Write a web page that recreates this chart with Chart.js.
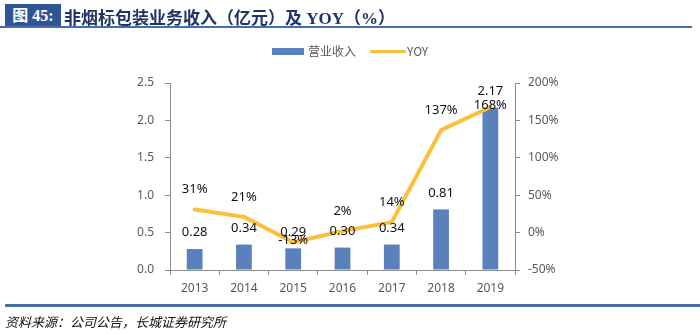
<!DOCTYPE html>
<html>
<head>
<meta charset="utf-8">
<script src="https://cdn.jsdelivr.net/npm/chart.js@4/dist/chart.umd.min.js"></script>
<style>
  html, body { margin: 0; padding: 0; background: #fff; }
  #page { position: relative; width: 700px; height: 334px; overflow: hidden; background: #fff; }
  #chartBox { position: absolute; left: 0; top: 0; width: 700px; height: 334px; }
  .title-tag {
    position: absolute; left: 5px; top: 4px; width: 56px; height: 23px;
    background: #2F5597; color: #fff; font: bold 16px "Liberation Serif", "Noto Sans CJK SC", serif;
    line-height: 23px; text-align: center; white-space: nowrap;
  }
  .title-text {
    position: absolute; left: 64px; top: 4px; height: 23px; line-height: 23px;
    color: #1F3468; font: bold 17px "Liberation Serif", "Noto Sans CJK SC", serif; white-space: nowrap;
  }
  .rule-top { position: absolute; left: 0; top: 26px; width: 692px; height: 2px; background: #4A6FA8; }
  .rule-bottom { position: absolute; left: 5px; top: 304px; width: 695px; height: 3px; background: #4A6FA8; }
  .source {
    position: absolute; left: 5px; top: 312px; font: italic 13px "Noto Sans CJK SC", sans-serif;
    color: #111; white-space: nowrap;
  }
  .legend { position: absolute; top: 42px; left: 272px; height: 18px; font: 12px "Noto Sans CJK SC", sans-serif; color: #595959; white-space: nowrap; }
  .legend span { position: absolute; top: 0; line-height: 18px; }
  .legend i { position: absolute; display: block; }
</style>
</head>
<body>
<div id="page">
  <div id="chartBox"><canvas id="c"></canvas></div>
  <div class="title-tag">图 45:</div>
  <div class="title-text">非烟标包装业务收入（亿元）及 YOY（%）</div>
  <div class="rule-top"></div>
  <div class="legend">
    <i style="left:0; top:6px; width:32px; height:7px; background:#5981BC;"></i>
    <span style="left:36px;">营业收入</span>
    <i style="left:98px; top:8px; width:36px; height:3px; background:#FBBF3C; border-radius:2px;"></i>
    <span style="left:135px;">YOY</span>
  </div>
  <div class="rule-bottom"></div>
  <div class="source">资料来源：公司公告，长城证券研究所</div>
</div>
<script>
// Years on the category axis
const years = ['2013', '2014', '2015', '2016', '2017', '2018', '2019'];
// Non-cigarette packaging revenue, 100 million yuan
const revenue = [0.28, 0.34, 0.29, 0.30, 0.34, 0.81, 2.17];
// Year-over-year growth, %
const yoy = [31, 21, -13, 2, 14, 137, 168];
// Where each growth label sits relative to its point
const yoyLabelPlace = ['above', 'above', 'center', 'above', 'above', 'above', 'center'];
// Axis tick values
const revenueTicks = [0, 0.5, 1.0, 1.5, 2.0, 2.5];
const yoyTicks = [-50, 0, 50, 100, 150, 200];

const AXIS_GRAY = '#8C8C8C';
const TICK_FONT = { family: '"Noto Sans", "Noto Sans CJK SC", sans-serif', size: 12 };

const valueLabels = {
  id: 'valueLabels',
  afterDatasetsDraw(chart) {
    const ctx = chart.ctx;
    ctx.save();
    ctx.font = '13px "Noto Sans", "Noto Sans CJK SC", sans-serif';
    ctx.fillStyle = '#111';
    ctx.textAlign = 'center';
    ctx.textBaseline = 'middle';
    chart.getDatasetMeta(0).data.forEach((el, i) => {
      ctx.fillText(revenue[i].toFixed(2), el.x, el.y - 16.5);
    });
    chart.getDatasetMeta(1).data.forEach((el, i) => {
      const lift = yoyLabelPlace[i] === 'above' ? 20 : 2;
      ctx.fillText(yoy[i] + '%', el.x, el.y - lift);
    });
    ctx.restore();
  }
};

const axisGrid = { display: true, drawOnChartArea: false, drawTicks: true, tickLength: 5, color: AXIS_GRAY, lineWidth: 1 };
const axisBorder = { display: true, color: AXIS_GRAY, width: 1 };

new Chart(document.getElementById('c'), {
  type: 'bar',
  data: {
    labels: years,
    datasets: [
      {
        label: '营业收入',
        data: revenue,
        backgroundColor: '#5981BC',
        borderWidth: 0,
        barPercentage: 0.32,
        categoryPercentage: 1,
        yAxisID: 'y',
        order: 1
      },
      {
        type: 'line',
        label: 'YOY',
        data: yoy,
        borderColor: '#FBBF3C',
        backgroundColor: '#FBBF3C',
        borderWidth: 4,
        pointRadius: 0,
        tension: 0,
        borderJoinStyle: 'round',
        borderCapStyle: 'round',
        yAxisID: 'y2',
        order: 0
      }
    ]
  },
  options: {
    responsive: true,
    maintainAspectRatio: false,
    animation: false,
    layout: { padding: { top: 83, left: 0, right: 0, bottom: 0 } },
    plugins: { legend: { display: false }, tooltip: { enabled: false }, title: { display: false } },
    scales: {
      x: {
        grid: axisGrid,
        border: axisBorder,
        ticks: { font: TICK_FONT, color: '#595959', padding: 6, maxRotation: 0 },
        afterFit(scale) { scale.height = 64; }
      },
      y: {
        position: 'left',
        min: 0, max: 2.5,
        afterBuildTicks(scale) { scale.ticks = revenueTicks.map(v => ({ value: v })); },
        grid: axisGrid,
        border: axisBorder,
        ticks: { font: TICK_FONT, color: '#595959', padding: 11, callback: v => Number(v).toFixed(1) },
        afterFit(scale) { scale.width = 170; }
      },
      y2: {
        position: 'right',
        min: -50, max: 200,
        afterBuildTicks(scale) { scale.ticks = yoyTicks.map(v => ({ value: v })); },
        grid: axisGrid,
        border: axisBorder,
        ticks: { font: TICK_FONT, color: '#595959', padding: 8, callback: v => v + '%' },
        afterFit(scale) { scale.width = 185; }
      }
    }
  },
  plugins: [valueLabels]
});
</script>
</body>
</html>
